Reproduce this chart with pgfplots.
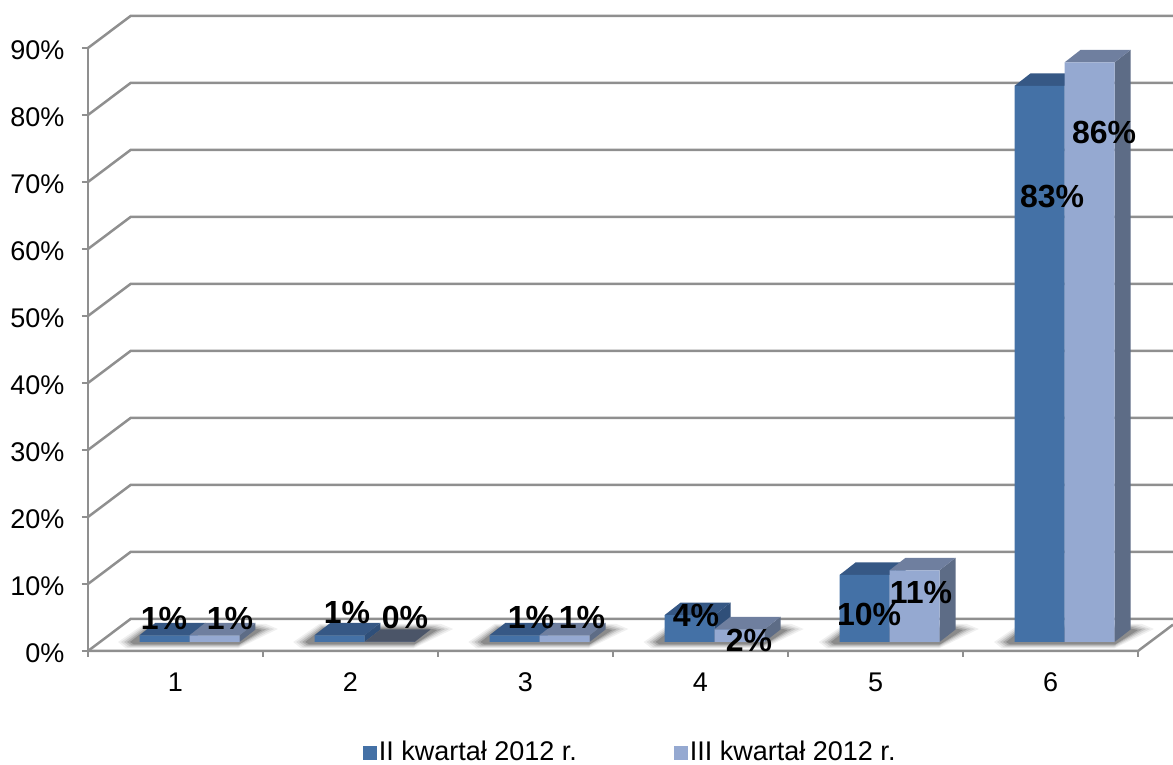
\documentclass[border=0pt]{standalone}
\usepackage{fontspec}
\setmainfont{Liberation Sans}
\usepackage{pgfplots}
\usepackage{pgfplotstable}
\pgfplotsset{compat=1.18}

\definecolor{frontA}{HTML}{4471A6}
\definecolor{sideA}{HTML}{2F4F79}
\definecolor{topA}{HTML}{365885}
\definecolor{frontB}{HTML}{95A9D1}
\definecolor{sideB}{HTML}{5D6C86}
\definecolor{topB}{HTML}{6F7F9F}
\definecolor{topZero}{HTML}{4B5568}
\definecolor{wall}{HTML}{8F8F8F}

\pgfplotstableread{
cat val
1 1
2 1
3 1
4 4
5 10
6 83
}\seriesA
\pgfplotstableread{
cat val
1 1
2 0
3 1
4 1.9
5 10.7
6 86.5
}\seriesB

% label positions
\pgfplotstableread{
x y lab
0.934 4.78 1
1.311 4.78 1
1.980 5.82 1
2.311 4.93 0
3.031 4.93 1
3.323 5.07 1
3.974 5.37 4
4.277 1.64 2
4.963 5.52 10
5.260 8.66 11
6.009 67.76 83
6.306 77.46 86
}\labels

% one wall line: front edge, back edge, right end
\pgfplotstableread{
x y
0.5 0
0.743 4.776
6.7 4.776
}\wallline

% floor shadow of the first group in pixels, nested outlines
\pgfplotstableread{
px py
118 642
126 648.5
238 648.5
278 629
266 624
144 624
}\shadowA
\pgfplotstableread{
px py
121 642
128 647.5
238 647.5
274 629
262 625
145 625
}\shadowB
\pgfplotstableread{
px py
124 642
130 646.5
238 646.5
270 629
259 626
146 626
}\shadowC
\pgfplotstableread{
px py
127 642
132 645.5
238 645.5
266 629.5
256 627
147 627
}\shadowD
\pgfplotstableread{
px py
130 642
134 644.5
239 644.5
262 630
252 628
148 628
}\shadowE

\newcommand{\shadowlayer}[3]{%
  \addplot[forget plot, fill=black, fill opacity=#3, draw=none, xshift=#1*175.2pt]
    table[x expr=(\thisrow{px}-88)/175+0.5, y expr=(651-\thisrow{py})/6.7] {#2};
}

% side and top faces of one bar: category, bar shift, value, side, top
\newcommand{\barfacets}[5]{%
  \pgfmathsetmacro\xr{#1+(#2+25)/175}
  \pgfmathsetmacro\xl{\xr-50/175}
  \pgfmathsetmacro\xrb{\xr+16/175}
  \pgfmathsetmacro\xlb{\xl+16/175}
  \pgfmathsetmacro\ya{1.343}
  \pgfmathsetmacro\yb{1.343+1.866}
  \pgfmathsetmacro\yc{#3+1.343}
  \pgfmathsetmacro\yd{#3+1.343+1.866}
  \addplot[forget plot, fill=#4, draw=none] coordinates {(\xr,\ya)(\xrb,\yb)(\xrb,\yd)(\xr,\yc)};
  \addplot[forget plot, fill=#5, draw=none] coordinates {(\xl,\yc)(\xr,\yc)(\xrb,\yd)(\xlb,\yd)};
}

\begin{document}
\begin{tikzpicture}
\path[use as bounding box] (0,0) rectangle (1173pt,765pt);
\begin{axis}[
    at={(88pt,114pt)},
    anchor=south west,
    x=175pt, y=6.7pt,
    xmin=0.5, xmax=6.7,
    ymin=0, ymax=94.776,
    clip=false,
    axis line style={draw=none},
    tick align=outside,
    tick pos=left,
    xtick={1,2,3,4,5,6},
    minor xtick={0.5,1.5,2.5,3.5,4.5,5.5,6.5},
    ytick={0,10,20,30,40,50,60,70,80,90},
    major tick length=6pt,
    minor tick length=6pt,
    major x tick style={draw=none},
    minor x tick style={draw=wall, line width=1.8pt},
    major y tick style={draw=wall, line width=1.8pt},
    yticklabel={\pgfmathprintnumber{\tick}\%},
    /pgf/number format/assume math mode=true,
    tick label style={font=\fontsize{27}{30}\selectfont},
    xticklabel style={yshift=-12pt},
    yticklabel style={xshift=-14pt, yshift=-2pt},
    legend columns=2,
    legend style={
        at={(0.4997,-0.1575)}, anchor=center,
        draw=none, fill=none, inner sep=0pt,
        font=\fontsize{27}{30}\selectfont,
        /tikz/every even column/.append style={column sep=95pt},
    },
    squarekey/.style={legend image code/.code={\fill[##1] (-4pt,-18pt) rectangle (10pt,-4pt);}},
]

% back wall, left wall and floor
\pgfplotsinvokeforeach{0,10,...,90}{
  \addplot[forget plot, draw=wall, line width=2.5pt] table[x=x, y expr=\thisrow{y}+#1] {\wallline};
}
\addplot[forget plot, draw=wall, line width=2.5pt] coordinates {(0.5,0)(0.5,90)};
\addplot[forget plot, draw=wall, line width=2.5pt] coordinates {(0.5,0)(6.5,0)(6.7,3.93)};

\pgfplotsinvokeforeach{0,...,5}{
  \shadowlayer{#1}{\shadowA}{0.06}
  \shadowlayer{#1}{\shadowB}{0.08}
  \shadowlayer{#1}{\shadowC}{0.11}
  \shadowlayer{#1}{\shadowD}{0.14}
  \shadowlayer{#1}{\shadowE}{0.18}
}

% first series
\pgfplotsinvokeforeach{0,...,5}{
  \pgfplotstablegetelem{#1}{val}\of{\seriesA}
  \barfacets{#1+1}{-11}{\pgfplotsretval}{sideA}{topA}
}
\addplot[ybar, bar width=50pt, bar shift=-11pt, fill=frontA, draw=none, yshift=9pt, squarekey]
    table[x=cat, y=val] {\seriesA};
\addlegendentry{II kwartał 2012 r.}

% second series, the empty bar keeps a darker lid
\pgfplotsinvokeforeach{0,...,5}{
  \pgfplotstablegetelem{#1}{val}\of{\seriesB}
  \ifdim\pgfplotsretval pt=0pt
    \barfacets{#1+1}{39}{0}{sideB}{topZero}
  \else
    \barfacets{#1+1}{39}{\pgfplotsretval}{sideB}{topB}
  \fi
}
\addplot[ybar, bar width=50pt, bar shift=39pt, fill=frontB, draw=none, yshift=9pt, squarekey]
    table[x=cat, y=val] {\seriesB};
\addlegendentry{III kwartał 2012 r.}

% value labels
\addplot[forget plot, draw=none, mark=none,
    point meta=explicit symbolic,
    nodes near coords={\pgfplotspointmeta\%},
    nodes near coords style={anchor=center, inner sep=0pt,
        font=\fontsize{32}{36}\selectfont\bfseries, text=black},
] table[x=x, y=y, meta=lab] {\labels};

\end{axis}
\end{tikzpicture}
\end{document}
